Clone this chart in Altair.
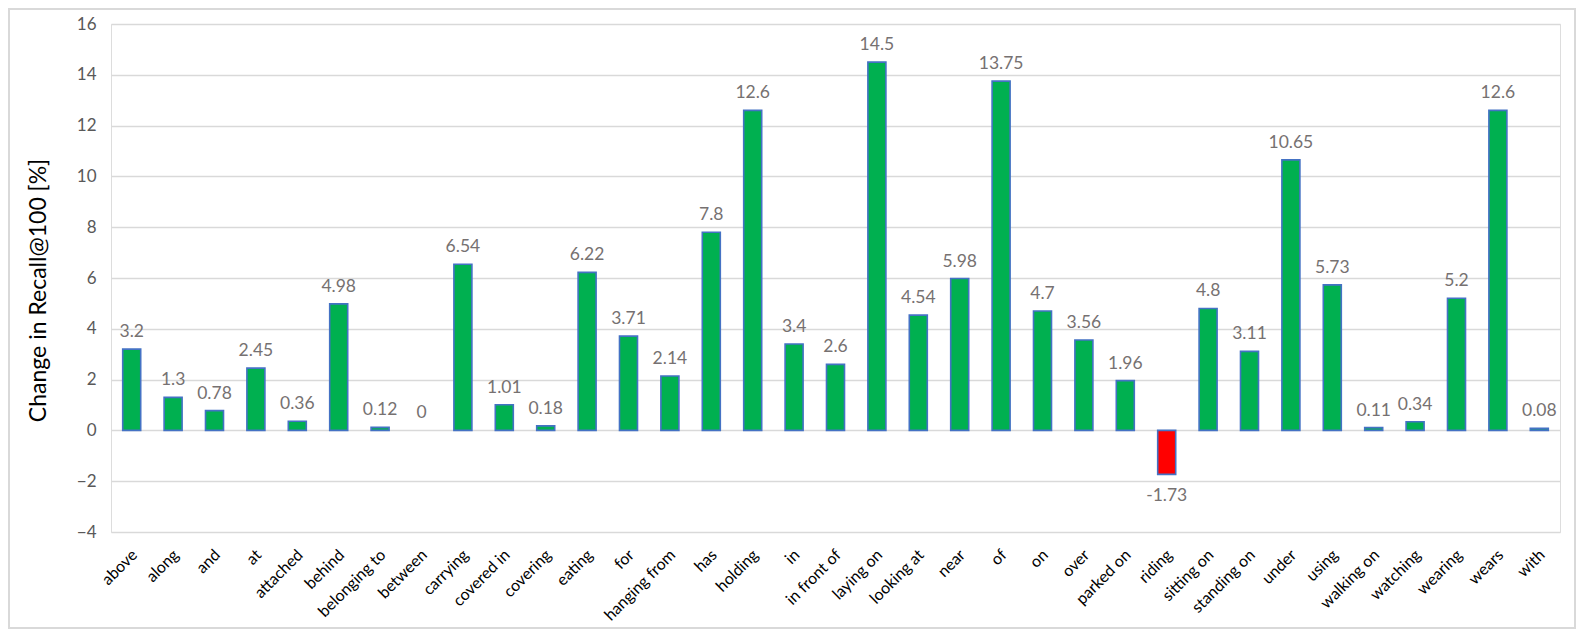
import altair as alt
import pandas as pd

categories = ["above", "along", "and", "at", "attached", "behind", "belonging to", "between",
              "carrying", "covered in", "covering", "eating", "for", "hanging from", "has",
              "holding", "in", "in front of", "laying on", "looking at", "near", "of", "on",
              "over", "parked on", "riding", "sitting on", "standing on", "under", "using",
              "walking on", "watching", "wearing", "wears", "with"]
values = [3.2, 1.3, 0.78, 2.45, 0.36, 4.98, 0.12, 0, 6.54, 1.01, 0.18, 6.22, 3.71, 2.14, 7.8,
          12.6, 3.4, 2.6, 14.5, 4.54, 5.98, 13.75, 4.7, 3.56, 1.96, -1.73, 4.8, 3.11, 10.65,
          5.73, 0.11, 0.34, 5.2, 12.6, 0.08]
labels = ["3.2", "1.3", "0.78", "2.45", "0.36", "4.98", "0.12", "0", "6.54", "1.01", "0.18",
          "6.22", "3.71", "2.14", "7.8", "12.6", "3.4", "2.6", "14.5", "4.54", "5.98", "13.75",
          "4.7", "3.56", "1.96", "-1.73", "4.8", "3.11", "10.65", "5.73", "0.11", "0.34",
          "5.2", "12.6", "0.08"]

df = pd.DataFrame({"cat": categories, "val": values, "lab": labels})
df["sign"] = ["neg" if v < 0 else "pos" for v in values]

FONT = "Lato"

x_enc = alt.X("cat:N", sort=categories, title=None,
              scale=alt.Scale(paddingInner=0.565, paddingOuter=0.2825),
              axis=alt.Axis(labelAngle=-45, labelAlign="right", labelBaseline="middle",
                            labelFontSize=16, labelColor="#000000", labelFont=FONT,
                            labelPadding=20, labelOffset=3, domain=False, ticks=False,
                            labelOverlap=False, labelLimit=200))
y_scale = alt.Scale(domain=[-4, 16], nice=False, zero=False)

bars = alt.Chart(df).mark_bar(strokeWidth=1.6).encode(
    x=x_enc,
    y=alt.Y("val:Q", scale=y_scale, title="Change in Recall@100 [%]",
            axis=alt.Axis(values=list(range(-4, 17, 2)), labelFontSize=17, labelColor="#595959",
                          labelFont=FONT, titleFont=FONT, titleFontSize=23,
                          titleFontWeight="normal", titleColor="#000000",
                          titleX=-73, titleY=266, titleBaseline="middle", titleAngle=-90,
                          labelPadding=15, domain=False, ticks=False,
                          gridColor="#D9D9D9", gridWidth=1.5)),
    y2=alt.datum(0),
    color=alt.Color("sign:N", scale=alt.Scale(domain=["pos", "neg"], range=["#00B050", "#FF0000"]),
                    legend=None),
    stroke=alt.condition(alt.datum.val == 0, alt.value("transparent"), alt.value("#4472C4")),
)

pos_text = alt.Chart(df).transform_filter(alt.datum.val >= 0).mark_text(
    baseline="bottom", dy=-8, fontSize=17.5, color="#767171", font=FONT
).encode(x=alt.X("cat:N", sort=categories), y=alt.Y("val:Q", scale=y_scale), text="lab:N")

neg_text = alt.Chart(df).transform_filter(alt.datum.val < 0).mark_text(
    baseline="top", dy=13, fontSize=17.5, color="#767171", font=FONT
).encode(x=alt.X("cat:N", sort=categories), y=alt.Y("val:Q", scale=y_scale), text="lab:N")

frame = alt.Chart(alt.Data(values=[{"a": 1}])).mark_rect(
    fill=None, stroke="#D9D9D9", strokeWidth=2, clip=False
).encode(x=alt.value(-102), x2=alt.value(1464), y=alt.value(-15), y2=alt.value(604))

chart = alt.layer(bars, pos_text, neg_text, frame).properties(
    width=1449, height=508,
    autosize=alt.AutoSizeParams(type="none"),
    padding={"left": 103, "top": 16, "right": 17, "bottom": 98},
).configure_view(stroke=None).configure(font=FONT)

chart.save("out.html", embed_options={"renderer": "svg", "actions": False})
